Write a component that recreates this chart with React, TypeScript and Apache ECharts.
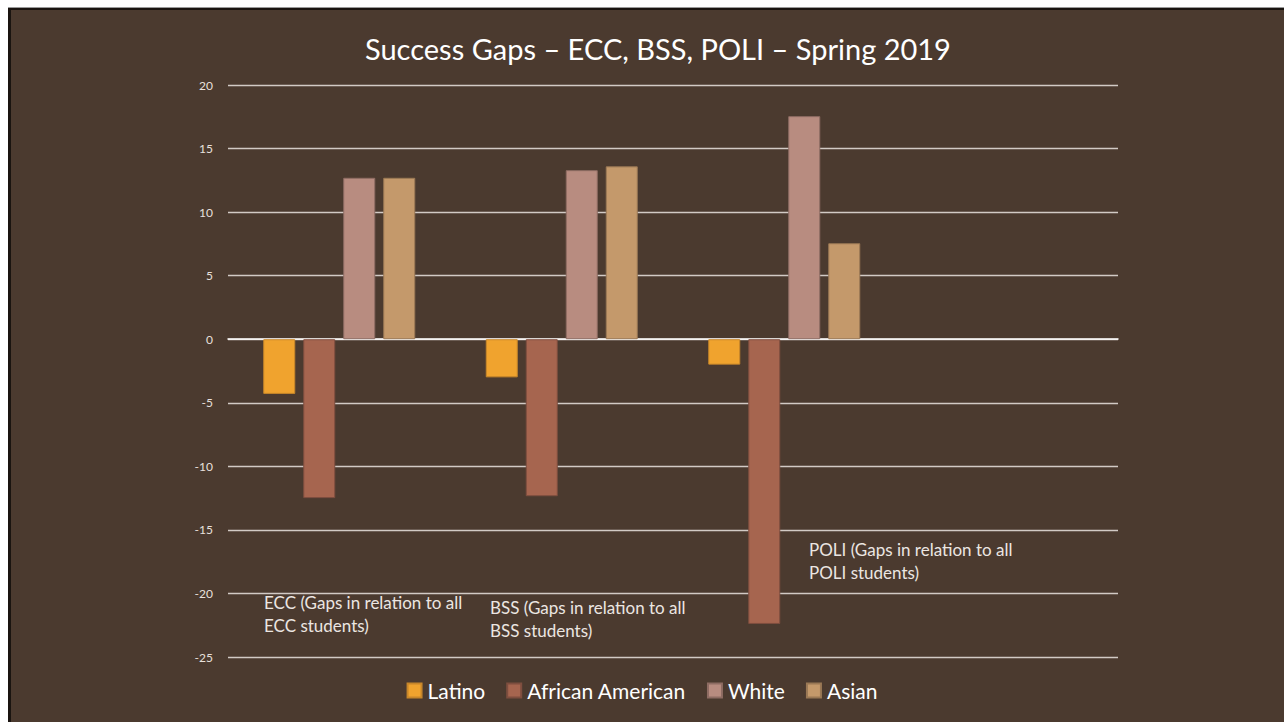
import React, { useEffect, useRef } from "react";
import * as echarts from "echarts";

const categories = ["ECC", "BSS", "POLI", ""];
const latino = [-4.3, -3.0, -2.0, null];
const africanAmerican = [-12.5, -12.35, -22.4, null];
const white = [12.7, 13.3, 17.55, null];
const asian = [12.7, 13.6, 7.55, null];
const seriesNames = ["Latino", "African American", "White", "Asian"];
const seriesColors = ["#F0A32E", "#A6654F", "#B88C80", "#C4996B"];
const seriesBorders = ["#C7862A", "#7E4E3F", "#8E6C63", "#9A7855"];
const annotations = [
  { text: "ECC (Gaps in relation to all\nECC students)", x: 264, y: 591 },
  { text: "BSS (Gaps in relation to all\nBSS students)", x: 490, y: 596 },
  { text: "POLI (Gaps in relation to all\nPOLI students)", x: 809, y: 538 },
];

const FONT = "Lato, 'Open Sans', sans-serif";

export default function App() {
  const ref = useRef<HTMLDivElement>(null);
  useEffect(() => {
    if (!ref.current) return;
    const chart = echarts.init(ref.current, undefined, { renderer: "svg" });
    const data = [latino, africanAmerican, white, asian];
    chart.setOption({
      animation: false,
      backgroundColor: "transparent",
      textStyle: { fontFamily: FONT },
      title: {
        text: "Success Gaps – ECC, BSS, POLI – Spring 2019",
        left: 360,
        top: 29,
        textStyle: { color: "#ffffff", fontSize: 29, fontWeight: "normal", fontFamily: FONT },
      },
      legend: {
        data: seriesNames,
        left: "center",
        top: 675,
        icon: "rect",
        itemWidth: 14,
        itemHeight: 14,
        itemGap: 21,
        textStyle: { color: "#ffffff", fontSize: 21, fontFamily: FONT, padding: [0, 0, 0, 1] },
      },
      grid: { left: 228, right: 166, top: 85, bottom: 65, containLabel: false },
      xAxis: {
        type: "category",
        data: categories,
        axisLine: { show: true, onZero: true, lineStyle: { color: "#ffffff", width: 1.5 } },
        axisTick: { show: false },
        axisLabel: { show: false },
        splitLine: { show: false },
      },
      yAxis: {
        type: "value",
        min: -25,
        max: 20,
        interval: 5,
        axisLine: { show: false },
        axisTick: { show: false },
        axisLabel: { color: "#e8e0dc", fontSize: 12, margin: 15, fontFamily: FONT },
        splitLine: { show: true, lineStyle: { color: "#d2cac5", width: 1.3 } },
      },
      series: seriesNames.map((name, i) => ({
        name,
        type: "bar",
        data: data[i],
        barWidth: 32,
        barGap: "25%",
        itemStyle: { color: seriesColors[i], borderColor: seriesBorders[i], borderWidth: 1 },
      })),
      graphic: annotations.map((a) => ({
        type: "text",
        x: a.x,
        y: a.y,
        style: {
          text: a.text,
          fill: "#ece6e2",
          font: `17px ${FONT}`,
          lineHeight: 23,
        },
      })),
    });
    return () => chart.dispose();
  }, []);

  return (
    <div style={{ position: "absolute", left: 0, top: 0, width: 1284, height: 722, background: "#ffffff", overflow: "hidden" }}>
      <div style={{ position: "absolute", left: 8, top: 7, width: 1276, height: 715, background: "#9a9a9a" }} />
      <div style={{ position: "absolute", left: 8, top: 8, width: 1276, height: 714, background: "#1a1410" }} />
      <div style={{ position: "absolute", left: 11, top: 10, width: 1273, height: 712, background: "#4b3a2f" }} />
      <div ref={ref} style={{ position: "absolute", left: 0, top: 0, width: 1284, height: 722 }} />
    </div>
  );
}
